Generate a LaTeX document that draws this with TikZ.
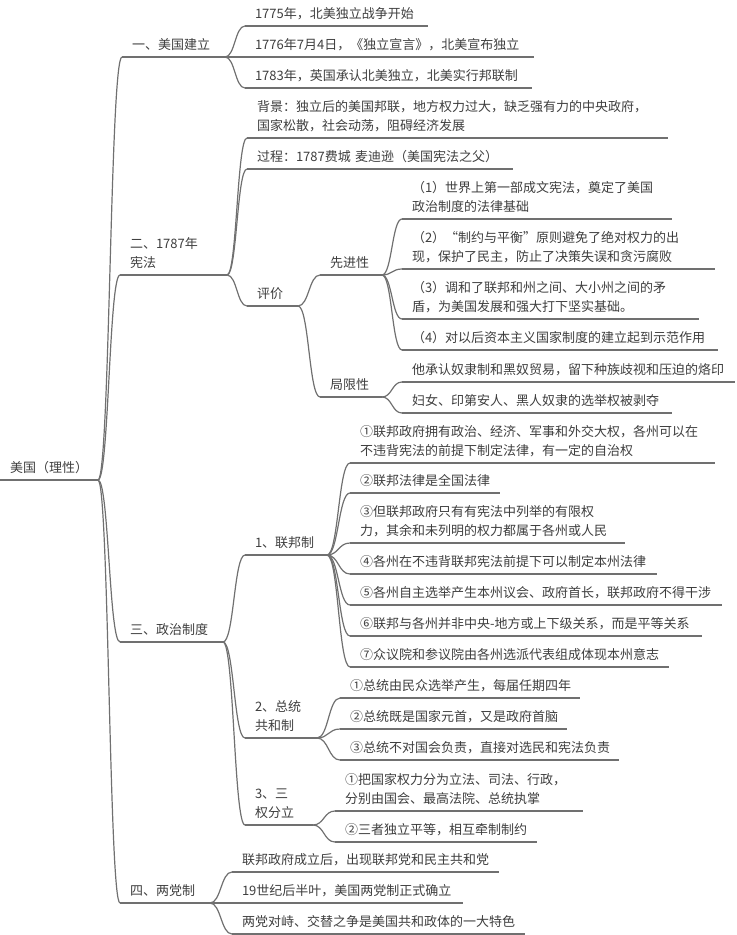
\documentclass[tikz,border=0pt]{standalone}
\usepackage{fontspec}
\usepackage{xcolor}
\usepackage{tikz}
\usetikzlibrary{calc}
\newfontfamily\cjk{Noto Sans CJK SC}
\definecolor{inkgray}{RGB}{62,62,62}
\definecolor{linegray}{RGB}{112,112,112}

\begin{document}
\begin{tikzpicture}[x=0.75pt, y=-0.75pt,
    topic/.style={anchor=south west, inner xsep=7.5pt, inner ysep=1pt, outer sep=0pt, align=left, text=inkgray, font=\cjk\fontsize{9.75pt}{14.25pt}\selectfont, execute at end node=\strut},
    link/.style={draw=linegray, line width=0.9pt},
    branch/.style={to path={let \p1=(\tikztostart), \p2=(\tikztotarget) in .. controls (\x1/2+\x2/2,\y1) and (\x1/2+\x2/2,\y2) .. (\tikztotarget)}}]
        \useasboundingbox (0,0) rectangle (736,935);

        % Root
        \node[topic, text width=58.5pt] (root) at (0,480) {美国（理性）};

        % Main branches
        \node[topic, text width=62.25pt] (build) at (122,57) {一、美国建立};
        \node[topic, text width=65.25pt] (const) at (120,275) {二、1787年\\宪法};
        \node[topic, text width=62.25pt] (polit) at (120,642) {三、政治制度};
        \node[topic, text width=52.5pt] (party) at (120,903) {四、两党制};

        % Founding
        \node[topic, text width=122.25pt] (build1) at (245,26) {1775年，北美独立战争开始};
        \node[topic, text width=201.75pt] (build2) at (245,57) {1776年7月4日，《独立宣言》，北美宣布独立};
        \node[topic, text width=200.25pt] (build3) at (245,88) {1783年，英国承认北美独立，北美实行邦联制};

        % Constitution of 1787
        \node[topic, text width=300.75pt] (bg) at (247,138) {背景：独立后的美国邦联，地方权力过大，缺乏强有力的中央政府，\\国家松散，社会动荡，阻碍经济发展};
        \node[topic, text width=184.5pt] (proc) at (247,169) {过程：1787费城~麦迪逊（美国宪法之父）};
        \node[topic, text width=23.25pt] (eval) at (247,306) {评价};
        \node[topic, text width=31.5pt] (adv) at (320,275) {先进性};
        \node[topic, text width=31.5pt] (lim) at (320,397) {局限性};
        \node[topic, text width=187.5pt] (adv1) at (402,219) {（1）世界上第一部成文宪法，奠定了美国\\政治制度的法律基础};
        \node[topic, text width=219.75pt] (adv2) at (402,269) {（2）“制约与平衡”原则避免了绝对权力的出\\现，保护了民主，防止了决策失误和贪污腐败};
        \node[topic, text width=207.75pt] (adv3) at (402,319) {（3）调和了联邦和州之间、大小州之间的矛\\盾，为美国发展和强大打下坚实基础。};
        \node[topic, text width=222pt] (adv4) at (402,350) {（4）对以后资本主义国家制度的建立起到示范作用};
        \node[topic, text width=234.75pt] (lim1) at (402,382) {他承认奴隶制和黑奴贸易，留下种族歧视和压迫的烙印};
        \node[topic, text width=187.5pt] (lim2) at (402,413) {妇女、印第安人、黑人奴隶的选举权被剥夺};

        % Political system
        \node[topic, text width=46.5pt] (fed) at (245,555) {1、联邦制};
        \node[topic, text width=39pt] (pres) at (245,738) {2、总统\\共和制};
        \node[topic, text width=36pt] (sep) at (245,825) {3、三\\权分立};
        \node[topic, text width=258.75pt] (fed1) at (350,463) {①联邦政府拥有政治、经济、军事和外交大权，各州可以在\\不违背宪法的前提下制定法律，有一定的自治权};
        \node[topic, text width=97.5pt] (fed2) at (350,493) {②联邦法律是全国法律};
        \node[topic, text width=191.25pt] (fed3) at (350,543) {③但联邦政府只有有宪法中列举的有限权\\力，其余和未列明的权力都属于各州或人民};
        \node[topic, text width=215.25pt] (fed4) at (350,574) {④各州在不违背联邦宪法前提下可以制定本州法律};
        \node[topic, text width=264pt] (fed5) at (350,605) {⑤各州自主选举产生本州议会、政府首长，联邦政府不得干涉};
        \node[topic, text width=249pt] (fed6) at (350,636) {⑥联邦与各州并非中央-地方或上下级关系，而是平等关系};
        \node[topic, text width=224.25pt] (fed7) at (350,667) {⑦众议院和参议院由各州选派代表组成体现本州意志};
        \node[topic, text width=165pt] (pres1) at (340,698) {①总统由民众选举产生，每届任期四年};
        \node[topic, text width=155.25pt] (pres2) at (340,729) {②总统既是国家元首，又是政府首脑};
        \node[topic, text width=194.25pt] (pres3) at (340,760) {③总统不对国会负责，直接对选民和宪法负责};
        \node[topic, text width=171pt] (sep1) at (335,811) {①把国家权力分为立法、司法、行政，\\分别由国会、最高法院、总统执掌};
        \node[topic, text width=136.5pt] (sep2) at (335,842) {②三者独立平等，相互牵制制约};

        % Two-party system
        \node[topic, text width=185.25pt] (party1) at (232,872) {联邦政府成立后，出现联邦党和民主共和党};
        \node[topic, text width=158.25pt] (party2) at (232,903) {19世纪后半叶，美国两党制正式确立};
        \node[topic, text width=204.75pt] (party3) at (232,934) {两党对峙、交替之争是美国共和政体的一大特色};

        % Underlines
        \foreach \n in {root,build,const,polit,party,build1,build2,build3,bg,proc,eval,adv,lim,adv1,adv2,adv3,adv4,lim1,lim2,fed,pres,sep,fed1,fed2,fed3,fed4,fed5,fed6,fed7,pres1,pres2,pres3,sep1,sep2,party1,party2,party3}
            \draw[link] (\n.south west) -- (\n.south east);

        % Connectors
        \foreach \c in {build,const,polit,party}
            \draw[link] (root.south east) to[branch] (\c.south west);
        \foreach \c in {build1,build2,build3}
            \draw[link] (build.south east) to[branch] (\c.south west);
        \foreach \c in {bg,proc,eval}
            \draw[link] (const.south east) to[branch] (\c.south west);
        \foreach \c in {adv,lim}
            \draw[link] (eval.south east) to[branch] (\c.south west);
        \foreach \c in {adv1,adv2,adv3,adv4}
            \draw[link] (adv.south east) to[branch] (\c.south west);
        \foreach \c in {lim1,lim2}
            \draw[link] (lim.south east) to[branch] (\c.south west);
        \foreach \c in {fed,pres,sep}
            \draw[link] (polit.south east) to[branch] (\c.south west);
        \foreach \c in {fed1,fed2,fed3,fed4,fed5,fed6,fed7}
            \draw[link] (fed.south east) to[branch] (\c.south west);
        \foreach \c in {pres1,pres2,pres3}
            \draw[link] (pres.south east) to[branch] (\c.south west);
        \foreach \c in {sep1,sep2}
            \draw[link] (sep.south east) to[branch] (\c.south west);
        \foreach \c in {party1,party2,party3}
            \draw[link] (party.south east) to[branch] (\c.south west);
    \end{tikzpicture}
\end{document}
